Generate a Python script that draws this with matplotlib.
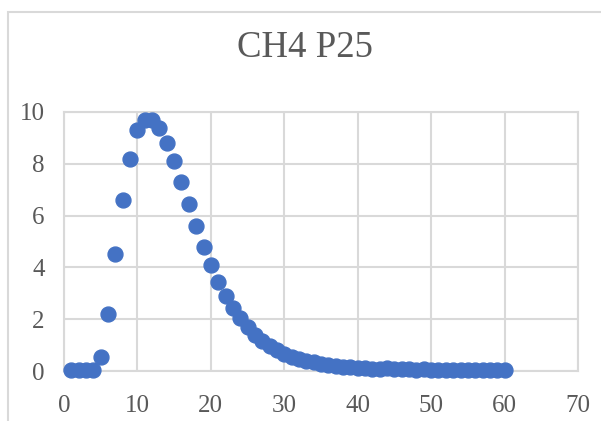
import matplotlib.pyplot as plt
from matplotlib.patches import Rectangle

plt.rcParams['font.family'] = ['Liberation Serif', 'DejaVu Serif']

# x values 1..60 and read-off y values
x = list(range(1, 61))
y = [0.05, 0.05, 0.05, 0.05, 0.55, 2.2, 4.5, 6.6, 8.2, 9.3,
     9.7, 9.7, 9.4, 8.8, 8.1, 7.3, 6.45, 5.6, 4.8, 4.1,
     3.45, 2.9, 2.45, 2.05, 1.7, 1.4, 1.15, 0.95, 0.8, 0.65,
     0.55, 0.45, 0.4, 0.33, 0.28, 0.24, 0.2, 0.17, 0.15, 0.12,
     0.1, 0.09, 0.08, 0.1, 0.07, 0.06, 0.06, 0.05, 0.06, 0.05,
     0.05, 0.05, 0.05, 0.05, 0.05, 0.05, 0.05, 0.05, 0.05, 0.05]
title = "CH4 P25"

fig = plt.figure(figsize=(6.01, 4.21), dpi=100)
fig.patches.append(Rectangle((8 / 601, -0.1), 1.2, 0.1 + (1 - 12 / 421),
                             transform=fig.transFigure, fill=False,
                             edgecolor='#D9D9D9', linewidth=1.5))

ax = fig.add_axes([64 / 601, 1 - 371 / 421, (578 - 64) / 601, (371 - 112) / 421])
ax.scatter(x, y, s=115, color='#4472C4', zorder=3, clip_on=False)

ax.set_xlim(0, 70)
ax.set_ylim(0, 10)
ax.set_xticks(range(0, 71, 10))
ax.set_yticks(range(0, 11, 2))
ax.grid(color='#D9D9D9', linewidth=1.5)
ax.set_axisbelow(True)
for s in ax.spines.values():
    s.set_color('#D9D9D9')
    s.set_linewidth(1.5)
ax.tick_params(length=0, labelsize=18, colors='#595959')
ax.tick_params(axis='x', pad=17)
ax.tick_params(axis='y', pad=14)

fig.text(0.507, 1 - 48 / 421, title, ha='center', va='center',
         fontsize=26.5, color='#595959')

fig.savefig('out.png', dpi=100)
